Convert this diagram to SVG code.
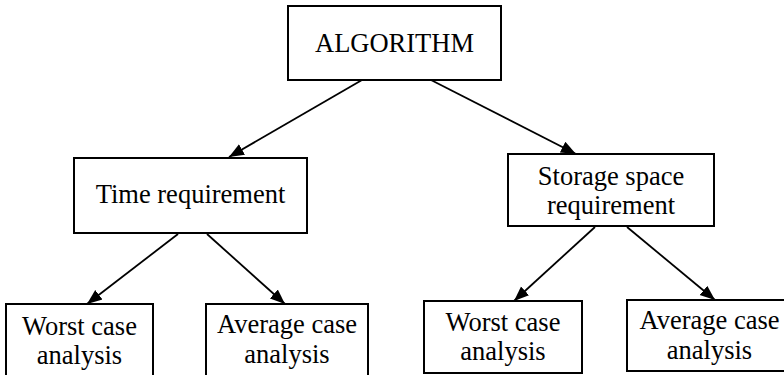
<svg xmlns="http://www.w3.org/2000/svg" width="784" height="375" viewBox="0 0 784 375">
<style>
.box{fill:#fff;stroke:#000;stroke-width:2}
.t{font-family:"Liberation Serif","Times New Roman",serif;font-size:26.5px;fill:#000;text-anchor:middle}
.c{stroke:#000;stroke-width:1.8;fill:none;marker-end:url(#ah)}
</style>
<defs>
<marker id="ah" markerUnits="userSpaceOnUse" markerWidth="16" markerHeight="14" viewBox="0 0 16 14" refX="15" refY="7" orient="auto">
<path d="M0,1 L15,7 L0,13 Z" fill="#000"/>
</marker>
</defs>
<rect width="784" height="375" fill="#fff"/>
<g id="connectors">
<line class="c" x1="362" y1="80" x2="229" y2="157"/>
<line class="c" x1="431" y1="80" x2="576" y2="154"/>
<line class="c" x1="178" y1="234" x2="87" y2="304"/>
<line class="c" x1="207" y1="234" x2="285" y2="304"/>
<line class="c" x1="595" y1="227" x2="514" y2="301"/>
<line class="c" x1="627" y1="227" x2="715" y2="300"/>
</g>
<g id="algorithm">
<rect class="box" x="288" y="6" width="213" height="74"/>
<text class="t" x="394.5" y="52">ALGORITHM</text>
</g>
<g id="time">
<rect class="box" x="74" y="158" width="233" height="75"/>
<text class="t" x="190.5" y="203">Time requirement</text>
</g>
<g id="storage">
<rect class="box" x="508" y="154" width="206" height="72"/>
<text class="t" x="611" y="185">Storage space</text>
<text class="t" x="611" y="214">requirement</text>
</g>
<g id="worst-time">
<rect class="box" x="6" y="304" width="147" height="80"/>
<text class="t" x="79.5" y="335">Worst case</text>
<text class="t" x="79.5" y="364">analysis</text>
</g>
<g id="average-time">
<rect class="box" x="206" y="304" width="162" height="80"/>
<text class="t" x="287" y="333">Average case</text>
<text class="t" x="287" y="363">analysis</text>
</g>
<g id="worst-space">
<rect class="box" x="424" y="301" width="158" height="72"/>
<text class="t" x="503" y="331">Worst case</text>
<text class="t" x="503" y="360">analysis</text>
</g>
<g id="average-space">
<rect class="box" x="627" y="300" width="170" height="71"/>
<text class="t" x="709.5" y="329">Average case</text>
<text class="t" x="709.5" y="359">analysis</text>
</g>
</svg>
